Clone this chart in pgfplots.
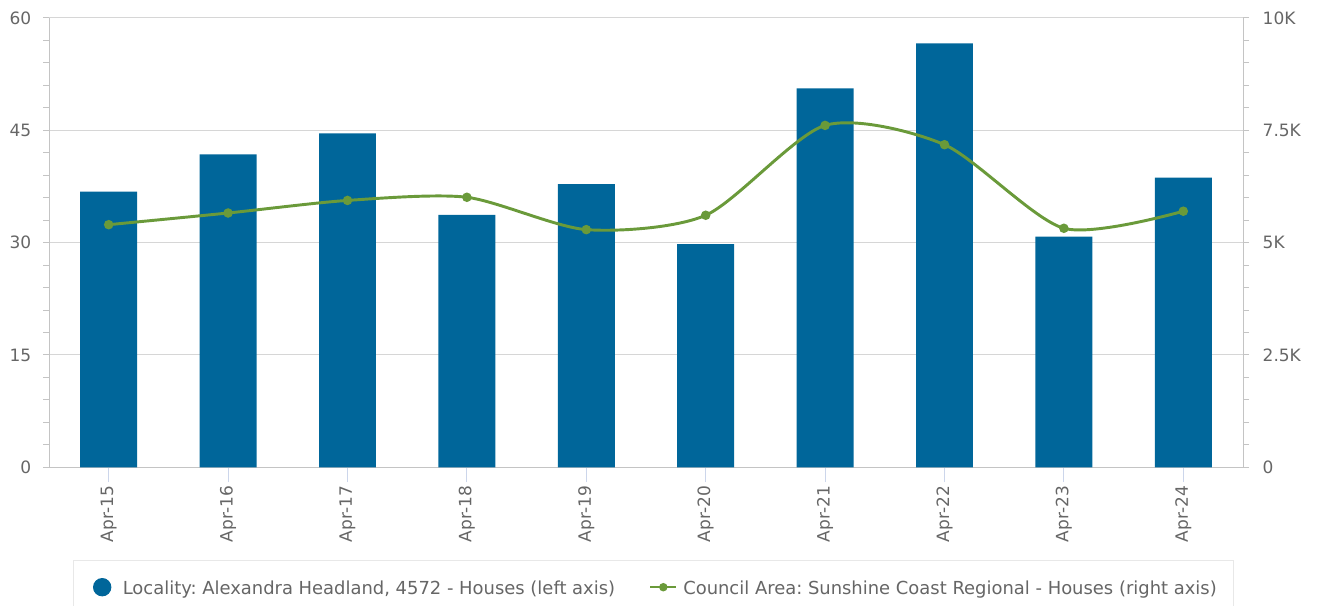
\documentclass[border=0pt]{standalone}
\usepackage{pgfplots}
\pgfplotsset{compat=1.18}
\usepackage{fontspec}
\setmainfont{DejaVu Sans}
\definecolor{barblue}{HTML}{00669A}
\definecolor{linegreen}{HTML}{6A9A3A}
\definecolor{tickgray}{HTML}{666666}
\definecolor{gridgray}{HTML}{D6D6D6}
\definecolor{axisgray}{HTML}{C4C4C4}
\definecolor{xtickblue}{HTML}{CCD6EB}
\definecolor{legborder}{HTML}{E8E8E8}
\begin{document}
\frenchspacing
\begin{tikzpicture}
\pgfplotsset{
  every axis/.append style={
    scale only axis, width=895.5pt, height=337.0pt,
    at={(36.75pt,104pt)}, anchor=south west,
    xmin=-0.5, xmax=9.5,
    tick label style={font=\fontsize{12.75}{15}\selectfont, text=tickgray},
    /pgf/number format/assume math mode=true,
    tick align=outside,
    major tick length=4.5pt, minor tick length=4.5pt,
    axis line style={axisgray, line width=0.75pt},
    ytick style={axisgray, line width=0.75pt},
    minor y tick num=4,
    scaled y ticks=false,
  }
}
\begin{axis}[
  ymin=0, ymax=60, ytick={0,15,30,45,60},
  axis x line*=bottom, axis y line*=left,
  ymajorgrids, grid style={gridgray, line width=0.75pt},
  xtick=data,
  xticklabels={Apr-15,Apr-16,Apr-17,Apr-18,Apr-19,Apr-20,Apr-21,Apr-22,Apr-23,Apr-24},
  xtick style={xtickblue, line width=0.75pt, /pgfplots/major tick length=11.25pt},
  xticklabel style={rotate=90, anchor=east, xshift=-6pt},
  yticklabel style={xshift=-5.25pt},
  ybar, bar width=0.477,
]
\addplot[fill=barblue, draw=none] coordinates {
  (0,36.8) (1,41.8) (2,44.6) (3,33.7) (4,37.8)
  (5,29.8) (6,50.6) (7,56.6) (8,30.8) (9,38.7)
};
\end{axis}
\begin{axis}[
  ymin=0, ymax=10000, ytick={0,2500,5000,7500,10000},
  yticklabels={0,2.5K,5K,7.5K,10K},
  yticklabel style={xshift=6.75pt},
  axis y line*=right, axis x line=none,
  legend columns=2, legend cell align=left,
  legend style={at={(0.0201,-0.2061)}, anchor=north west,
    draw=legborder, line width=0.75pt, fill=white,
    inner xsep=12.75pt, inner ysep=13.2pt,
    font=\fontsize{13.45}{16}\selectfont,
    column sep=0pt, nodes={inner sep=0pt, text=tickgray},
    /tikz/every even column/.append style={column sep=25.5pt}},
]
\addlegendimage{legend image code/.code={
  \path[draw=none, fill=none] (0pt,-3pt) rectangle (24.2pt,3pt);
  \fill[barblue] (8.77pt,1pt) circle[radius=6.5pt];}}
\addlegendentry{Locality: Alexandra Headland, 4572 - Houses (left axis)}
\addplot[linegreen, line width=2.2pt, smooth, tension=0.45,
  mark=*, mark size=2.4pt, mark options={fill=linegreen, draw=none},
  legend image code/.code={
  \path[draw=none, fill=none] (0pt,-3pt) rectangle (24.8pt,3pt);
  \draw[linegreen, line width=1.6pt] (0pt,1pt) -- (19.7pt,1pt);
  \fill[linegreen] (9.85pt,1pt) circle[radius=2pt];}
] coordinates {
  (0,5400) (1,5660) (2,5940) (3,6010) (4,5290)
  (5,5610) (6,7610) (7,7180) (8,5320) (9,5700)
};
\addlegendentry{Council Area: Sunshine Coast Regional - Houses (right axis)}
\end{axis}
\pgfresetboundingbox
\useasboundingbox (0,0) rectangle (987.75pt,454.5pt);
\end{tikzpicture}
\end{document}
